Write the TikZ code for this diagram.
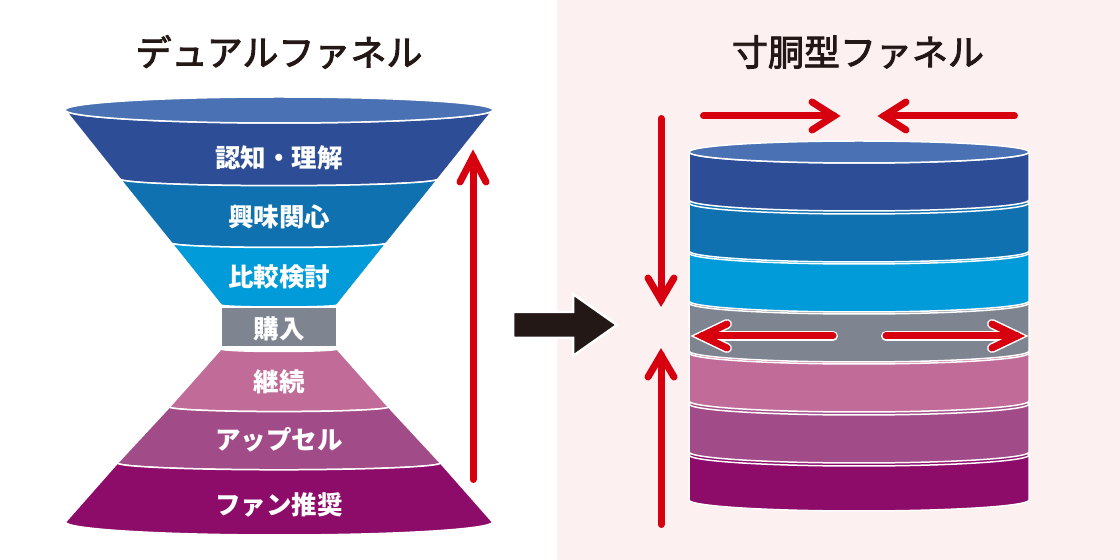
\documentclass[tikz,border=0pt]{standalone}
\usepackage{fontspec}
\newfontfamily\jp{Noto Sans CJK JP}
\newfontfamily\jpt[FakeBold=2.5]{Noto Sans CJK JP}
\definecolor{bgpink}{HTML}{FCF0F0}
\definecolor{cTop}{HTML}{4A71B3}
\definecolor{cBa}{HTML}{2D4E96}
\definecolor{cBb}{HTML}{0F71AF}
\definecolor{cBc}{HTML}{009BD8}
\definecolor{cG}{HTML}{7F8491}
\definecolor{cLa}{HTML}{C06B98}
\definecolor{cLb}{HTML}{A14C88}
\definecolor{cLc}{HTML}{8D0B69}
\definecolor{cRed}{HTML}{D7000F}
\definecolor{cBlk}{HTML}{231815}
\begin{document}
\begin{tikzpicture}[x=1pt,y=1pt,
  band/.style={draw=white, line width=1.5pt},
  sep/.style={draw=white, line width=1.5pt},
  redarr/.style={draw=cRed, line width=7pt, line cap=round, line join=miter},
  whitearr/.style={draw=white, line width=10pt, line cap=round, line join=miter},
  lbl/.style={text=white, font=\jp\bfseries\fontsize{25.5}{25.5}\selectfont, inner sep=0pt},
  ttl/.style={text=cBlk, font=\jpt\fontsize{36}{36}\selectfont, inner sep=0pt}]
\useasboundingbox (0,0) rectangle (1120,560);
\fill[white] (0,0) rectangle (557,560);
\fill[bgpink] (557,0) rectangle (1120,560);

% ---------- left dual funnel ----------
\filldraw[band, fill=cBa] (65,450) arc[start angle=180,end angle=360,x radius=214,y radius=13]
  -- (438,381) arc[start angle=0,end angle=-180,x radius=159,y radius=6.7] -- cycle;
\filldraw[band, fill=cTop] (279,450) ellipse[x radius=214, y radius=13];
\filldraw[band, fill=cBb] (120,381) arc[start angle=180,end angle=360,x radius=159,y radius=6.7]
  -- (386.6,317) arc[start angle=0,end angle=-180,x radius=107.6,y radius=4.5] -- cycle;
\filldraw[band, fill=cBc] (171.4,317) arc[start angle=180,end angle=360,x radius=107.6,y radius=4.5]
  -- (337,255) arc[start angle=0,end angle=-180,x radius=58,y radius=2] -- cycle;
\filldraw[band, fill=cG] (221,213) rectangle (337,253);
\filldraw[band, fill=cLa] (221,211) arc[start angle=180,end angle=360,x radius=58,y radius=2.5]
  -- (388.5,153) arc[start angle=0,end angle=-180,x radius=109.5,y radius=4.6] -- cycle;
\filldraw[band, fill=cLb] (169.5,153) arc[start angle=180,end angle=360,x radius=109.5,y radius=4.6]
  -- (440.5,97) arc[start angle=0,end angle=-180,x radius=161.5,y radius=6.8] -- cycle;
\filldraw[band, fill=cLc] (117.5,97) arc[start angle=180,end angle=360,x radius=161.5,y radius=6.8]
  -- (492.5,38) arc[start angle=0,end angle=-180,x radius=213.5,y radius=13] -- cycle;

\node[lbl] (n1) at (279,402) {認知・理解};
\node[lbl] (n2) at (279,343) {興味関心};
\node[lbl] (n3) at (279,283) {比較検討};
\node[lbl] (n4) at (279,231) {購入};
\node[lbl] (n5) at (279,178) {継続};
\node[lbl] (n6) at (279,120) {アップセル};
\node[lbl] (n7) at (279,55) {ファン推奨};

% left red arrow
\draw[redarr] (473,80.5) -- (473,403);
\draw[redarr] (460,378) -- (473,403) -- (486,378);

% ---------- titles ----------
\node[ttl] (t1) at (279,508) {デュアルファネル};
\node[ttl] (t2) at (858,508) {寸胴型ファネル};

% ---------- black block arrow ----------
\filldraw[fill=cBlk, draw=white, line width=2.5pt, line join=miter]
  (513,222) -- (573,222) -- (573,204) -- (617,235) -- (573,266) -- (573,248) -- (513,248) -- cycle;

% ---------- right cylinder ----------
\foreach \t/\b/\c in {105/60/cLc, 156/108/cLb, 207/159/cLa, 257/209/cG, 307/259/cBc, 357/309/cBb, 408/360/cBa} {
  \filldraw[band, fill=\c] (689,\t) arc[start angle=180,end angle=0,x radius=170,y radius=11]
    -- (1029,\b) arc[start angle=0,end angle=-180,x radius=170,y radius=11] -- cycle;
  \draw[sep] (689,\t) arc[start angle=180,end angle=360,x radius=170,y radius=11];
}
\filldraw[band, fill=cTop] (859,408) ellipse[x radius=170, y radius=11];

% vertical red arrows
\draw[redarr] (661,441.5) -- (661,260);
\draw[redarr] (648,282) -- (661,260) -- (674,282);
\draw[redarr] (661,35.5) -- (661,205);
\draw[redarr] (648,183) -- (661,205) -- (674,183);

% top horizontal arrows
\draw[redarr] (703.5,444) -- (834,444);
\draw[redarr] (812,458) -- (834,444) -- (812,430);
\draw[redarr] (1014.5,444) -- (884,444);
\draw[redarr] (906,458) -- (884,444) -- (906,430);

% arrows inside gray band (white outline)
\draw[whitearr] (833,224) -- (702,224);
\draw[whitearr] (727,236) -- (702,224) -- (727,212);
\draw[whitearr] (886,224) -- (1017,224);
\draw[whitearr] (992,236) -- (1017,224) -- (992,212);
\draw[redarr] (833,224) -- (702,224);
\draw[redarr] (727,236) -- (702,224) -- (727,212);
\draw[redarr] (886,224) -- (1017,224);
\draw[redarr] (992,236) -- (1017,224) -- (992,212);
\end{tikzpicture}
\end{document}
